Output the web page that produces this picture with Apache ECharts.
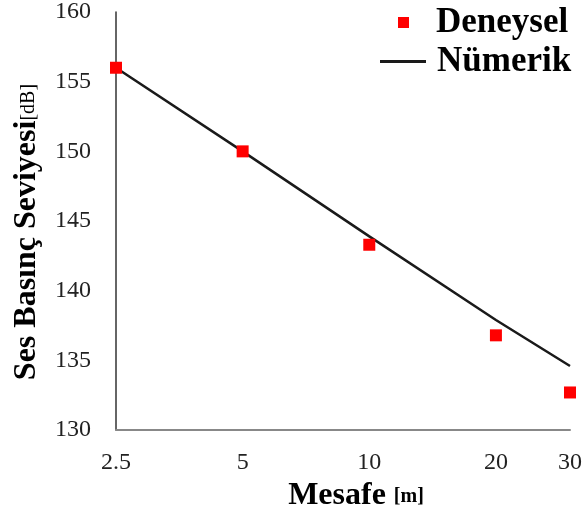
<!DOCTYPE html>
<html>
<head>
<meta charset="utf-8">
<script src="https://cdn.jsdelivr.net/npm/echarts@6/dist/echarts.min.js"></script>
<style>
  html, body { margin: 0; padding: 0; background: #fff; }
  #chart { width: 587px; height: 517px; }
</style>
</head>
<body>
<div id="chart"></div>
<script>
// Distance from the source (m) and measured / simulated sound pressure level (dB)
const distances = [2.5, 5, 10, 20, 30];
const deneysel = [156.0, 150.0, 143.3, 136.8, 132.7];
const numerik = [156.0, 150.0, 143.9, 137.9, 134.6];
const xTicks = [2.5, 5, 10, 20, 30];
const yMin = 130, yMax = 160, yStep = 5;

const serif = '"Liberation Serif", "Times New Roman", serif';

const chart = echarts.init(document.getElementById('chart'));
chart.setOption({
  animation: false,
  backgroundColor: '#fff',
  grid: { left: 116, right: 17, top: 11, bottom: 86 },
  legend: [
    {
      data: ['Deneysel'],
      left: 393, top: 0,
      icon: 'rect',
      itemWidth: 11, itemHeight: 11,
      itemStyle: { opacity: 1 },
      textStyle: { fontFamily: serif, fontWeight: 'bold', fontSize: 35, color: '#000', padding: [0, 0, 0, 22] }
    },
    {
      data: ['Nümerik'],
      left: 375, top: 39,
      icon: 'rect',
      itemWidth: 46, itemHeight: 3,
      textStyle: { fontFamily: serif, fontWeight: 'bold', fontSize: 35, color: '#000', padding: [0, 0, 0, 6] }
    }
  ],
  xAxis: {
    type: 'log',
    logBase: 2,
    min: 2.5,
    max: 30,
    name: '{b|Mesafe}{s|[m]}',
    nameLocation: 'middle',
    nameGap: 48,
    nameTextStyle: {
      padding: [0, 0, 0, 26],
      rich: {
        b: { fontFamily: serif, fontWeight: 'bold', fontSize: 32, color: '#000' },
        s: { fontFamily: serif, fontWeight: 'bold', fontSize: 20, color: '#000', padding: [2, 0, 0, 8] }
      }
    },
    axisLine: { show: true, lineStyle: { color: '#888', width: 2 } },
    axisTick: { show: false },
    splitLine: { show: false },
    axisLabel: {
      customValues: xTicks,
      margin: 21,
      fontFamily: serif, fontSize: 24, color: '#222',
      formatter: v => String(Math.round(v * 10) / 10)
    }
  },
  yAxis: {
    type: 'value',
    min: yMin, max: yMax, interval: yStep,
    name: '{b|Ses Basınç Seviyesi}{s|[dB]}',
    nameLocation: 'middle',
    nameGap: 73,
    nameTextStyle: {
      padding: [0, 22, 0, 0],
      rich: {
        b: { fontFamily: serif, fontWeight: 'bold', fontSize: 32, color: '#000' },
        s: { fontFamily: serif, fontSize: 20, color: '#000', padding: [3, 0, 0, 0] }
      }
    },
    axisLine: { show: true, lineStyle: { color: '#333', width: 1.5 } },
    axisTick: { show: false },
    splitLine: { show: false },
    axisLabel: { margin: 25, fontFamily: serif, fontSize: 24, color: '#222' }
  },
  series: [
    {
      name: 'Nümerik',
      type: 'line',
      symbol: 'none',
      lineStyle: { color: '#1a1a1a', width: 2.5 },
      itemStyle: { color: '#1a1a1a' },
      data: distances.map((d, i) => [d, numerik[i]]),
      z: 2
    },
    {
      name: 'Deneysel',
      type: 'scatter',
      symbol: 'rect',
      symbolSize: 12,
      itemStyle: { color: '#ff0000', opacity: 1 },
      data: distances.map((d, i) => [d, deneysel[i]]),
      z: 3
    }
  ]
});
</script>
</body>
</html>
